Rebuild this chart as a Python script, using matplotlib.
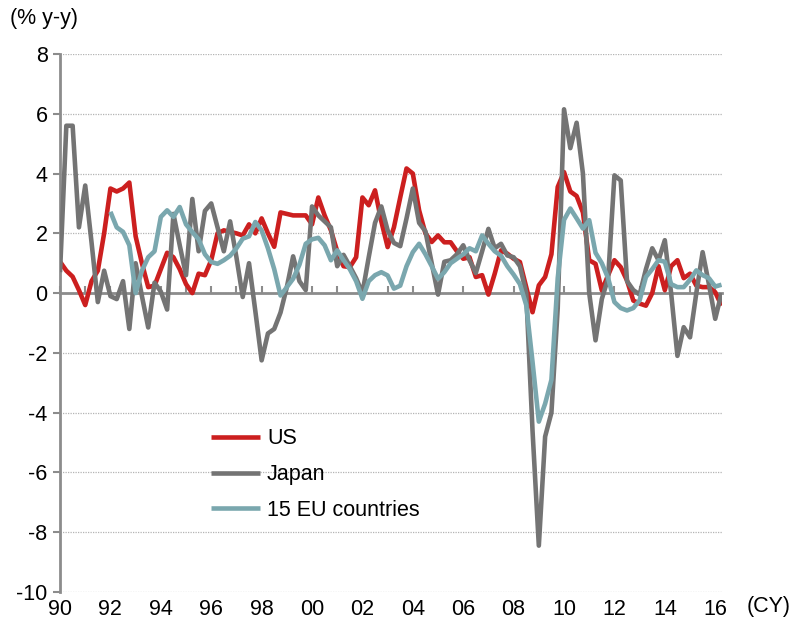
import numpy as np
import matplotlib.pyplot as plt

plt.rcParams['font.family'] = ['Liberation Sans', 'DejaVu Sans']
plt.rcParams['axes.unicode_minus'] = False

# quarterly % y-y, 1990Q1 .. 2016Q2
first_year = 1990
us = [
    1.05, 0.75, 0.55, 0.1,     # 1990
    -0.4, 0.4, 0.75, 2.0,      # 1991
    3.5, 3.4, 3.5, 3.7,        # 1992
    1.9, 1.0, 0.2, 0.25,       # 1993
    0.8, 1.35, 1.2, 0.8,       # 1994
    0.3, 0.0, 0.65, 0.6,       # 1995
    1.1, 2.0, 2.1, 2.05,       # 1996
    2.0, 1.93, 2.3, 2.0,       # 1997
    2.5, 2.0, 1.55, 2.7,       # 1998
    2.65, 2.6, 2.6, 2.6,       # 1999
    2.3, 3.2, 2.6, 2.1,        # 2000
    1.4, 0.9, 0.87, 1.2,       # 2001
    3.2, 2.94, 3.44, 2.4,      # 2002
    1.54, 2.2, 3.2, 4.17,      # 2003
    4.0, 2.77, 2.0, 1.71,      # 2004
    1.93, 1.7, 1.7, 1.4,       # 2005
    1.15, 1.2, 0.54, 0.6,      # 2006
    -0.05, 0.65, 1.43, 1.32,   # 2007
    1.15, 1.04, 0.2, -0.64,    # 2008
    0.26, 0.54, 1.3, 3.55,     # 2009
    4.05, 3.4, 3.25, 2.7,      # 2010
    1.1, 0.98, 0.09, 0.6,      # 2011
    1.1, 0.87, 0.42, -0.25,    # 2012
    -0.35, -0.42, 0.0, 0.9,    # 2013
    0.1, 0.9, 1.1, 0.5,        # 2014
    0.65, 0.25, 0.2, 0.2,      # 2015
    0.03, -0.42,               # 2016
]
japan = [
    0.7, 5.6, 5.6, 2.2,
    3.6, 1.7, -0.3, 0.75,
    -0.1, -0.2, 0.4, -1.2,
    1.0, -0.1, -1.15, 0.35,
    0.05, -0.55, 2.65, 1.6,
    0.6, 3.15, 1.4, 2.75,
    3.0, 2.2, 1.4, 2.4,
    1.2, -0.13, 1.0, -0.6,
    -2.25, -1.35, -1.2, -0.65,
    0.2, 1.23, 0.4, 0.1,
    2.9, 2.6, 2.4, 2.2,
    0.9, 1.28, 0.9, 0.5,
    0.0, 1.2, 2.35, 2.9,
    2.1, 1.68, 1.57, 2.5,
    3.5, 2.35, 2.07, 1.0,
    -0.05, 1.05, 1.1, 1.3,
    1.6, 1.1, 0.67, 1.4,
    2.15, 1.5, 1.65, 1.26,
    1.2, 0.9, 0.0, -4.6,
    -8.45, -4.8, -4.0, -0.5,
    6.15, 4.85, 5.7, 4.0,
    0.0, -1.58, -0.2, 0.5,
    3.94, 3.77, 0.4, 0.1,
    -0.05, 0.8, 1.5, 1.1,
    1.77, 0.0, -2.1, -1.14,
    -1.48, 0.0, 1.37, 0.3,
    -0.86, 0.0,
]
# EU15 series starts in 1992Q1
eu_start = 8
eu15 = [
    2.72, 2.2, 2.05, 1.6,
    0.0, 0.75, 1.2, 1.4,
    2.55, 2.77, 2.55, 2.88,
    2.3, 2.04, 1.8, 1.3,
    1.04, 0.98, 1.1, 1.25,
    1.5, 1.82, 1.9, 2.38,
    2.1, 1.5, 0.8, -0.08,
    0.2, 0.48, 0.95, 1.65,
    1.8, 1.85, 1.6, 1.1,
    1.43, 1.1, 0.8, 0.4,
    -0.19, 0.4, 0.6, 0.7,
    0.59, 0.15, 0.25, 0.9,
    1.37, 1.65, 1.3, 0.9,
    0.48, 0.7, 1.0, 1.15,
    1.3, 1.5, 1.4, 1.93,
    1.65, 1.4, 1.25, 0.9,
    0.62, 0.3, -0.4, -2.3,
    -4.3, -3.7, -2.9, 0.5,
    2.45, 2.83, 2.5, 2.16,
    2.44, 1.35, 1.0, 0.5,
    -0.3, -0.5, -0.58, -0.5,
    -0.24, 0.54, 0.8, 1.1,
    1.05, 0.3, 0.2, 0.2,
    0.45, 0.76, 0.6, 0.5,
    0.22, 0.28,
]
series_labels = ['US', 'Japan', '15 EU countries']
series_colors = ['#cc1f1f', '#747474', '#7aa7ae']
year_ticks = list(range(1990, 2017, 2))
year_labels = [f'{y % 100:02d}' for y in year_ticks]

t = first_year + np.arange(len(us)) / 4
t_eu = t[eu_start:eu_start + len(eu15)]

fs = 15.5
axis_grey = '#8c8c8c'

fig = plt.figure(figsize=(7.93, 6.23), dpi=100)
ax = fig.add_axes([0.0757, 0.0498, 0.8348, 0.8635])

for x, y, lab, col in zip((t, t, t_eu), (us, japan, eu15), series_labels, series_colors):
    ax.plot(x, y, color=col, lw=3.3, label=lab, zorder=3,
            solid_joinstyle='round', solid_capstyle='butt')

ax.set_xlim(t[0], t[-1] + 0.02)
ax.set_ylim(-10, 8)
ax.set_yticks(range(-10, 9, 2))
ax.yaxis.grid(True, linestyle=(0, (1, 1)), color='#b4b4b4', lw=0.9)
ax.set_axisbelow(True)

for side in ('top', 'right'):
    ax.spines[side].set_visible(False)
ax.spines['left'].set_color(axis_grey)
ax.spines['left'].set_linewidth(2)
ax.spines['bottom'].set_position(('data', 0))
ax.spines['bottom'].set_color(axis_grey)
ax.spines['bottom'].set_linewidth(2)

ax.set_xticks(range(1990, 2017))
ax.tick_params(axis='x', direction='in', length=5, width=1.5, color=axis_grey,
               labelbottom=False)
ax.tick_params(axis='y', direction='out', length=5, width=1.5, color=axis_grey,
               labelsize=fs, pad=4)

sec = ax.secondary_xaxis('bottom')
sec.set_xticks(year_ticks)
sec.set_xticklabels(year_labels)
sec.tick_params(length=0, labelsize=fs, pad=5)
sec.spines['bottom'].set_visible(False)

fig.text(0.012, 0.971, '(% y-y)', fontsize=fs, va='center', ha='left')
fig.text(0.942, 0.026, '(CY)', fontsize=fs, va='center', ha='left')

ax.legend(loc='upper left', bbox_to_anchor=(0.228, 0.304), frameon=False,
          fontsize=fs, handlelength=2.3, handletextpad=0.3, labelspacing=0.68,
          borderaxespad=0, borderpad=0)

fig.savefig('out.png', dpi=100)
